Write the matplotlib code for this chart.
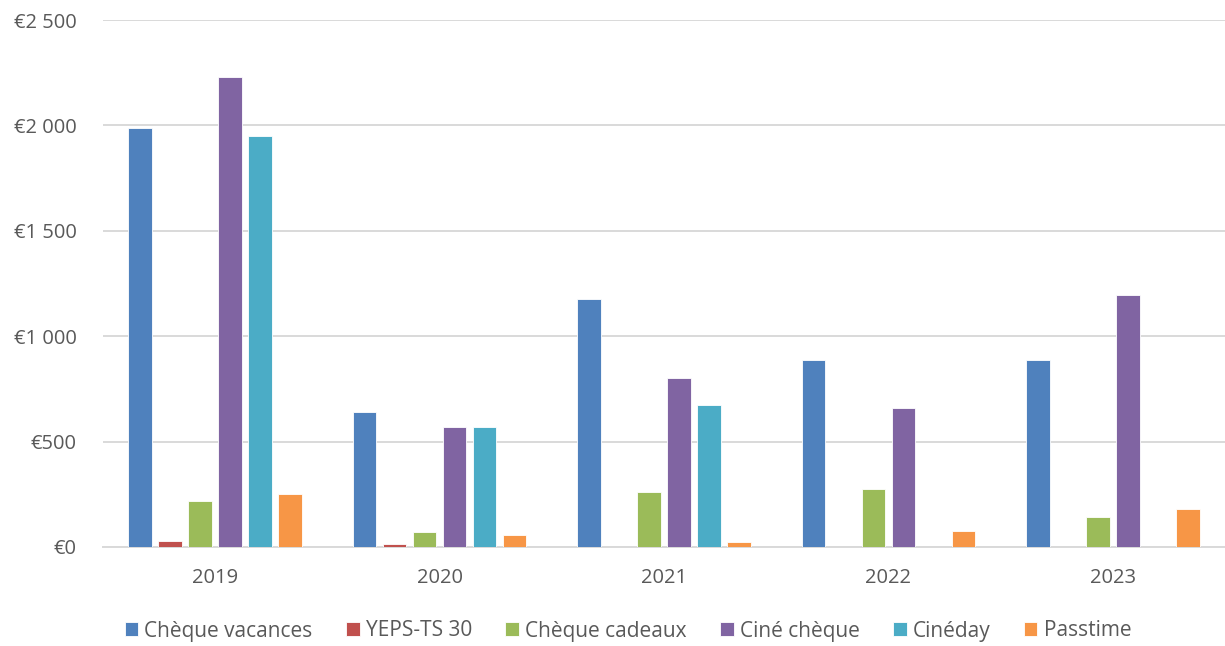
import matplotlib.pyplot as plt
from matplotlib.ticker import FuncFormatter
import numpy as np

years = ['2019', '2020', '2021', '2022', '2023']
series_names = ['Chèque vacances', 'YEPS-TS 30', 'Chèque cadeaux', 'Ciné chèque', 'Cinéday', 'Passtime']
cheque_vacances = [1990, 640, 1175, 885, 885]
yeps = [30, 12, 0, 0, 0]
cheque_cadeaux = [220, 70, 260, 275, 140]
cine_cheque = [2230, 570, 800, 660, 1195]
cineday = [1950, 570, 675, 0, 0]
passtime = [250, 55, 25, 75, 180]
colors = ['#4F81BD', '#C0504D', '#9BBB59', '#8064A2', '#4BACC6', '#F79646']

plt.rcParams['font.family'] = ['Open Sans', 'DejaVu Sans']

fig = plt.figure(figsize=(12.25, 6.46), dpi=100)
ax = fig.add_axes([103 / 1225, 1 - 547 / 646, 1122 / 1225, 527 / 646])

x = np.arange(len(years))
step = 0.1337
all_series = [cheque_vacances, yeps, cheque_cadeaux, cine_cheque, cineday, passtime]
for i, vals in enumerate(all_series):
    ax.bar(x + (i - 2.5) * step, vals, width=0.106, color=colors[i],
           edgecolor='white', linewidth=0.6, label=series_names[i], zorder=3)

ax.set_xlim(-0.5, 4.5)
ax.set_ylim(0, 2500)
ax.set_yticks(range(0, 2501, 500))

def euro(v, pos):
    v = int(v)
    if v >= 1000:
        return '€{} {:03d}'.format(v // 1000, v % 1000)
    return '€{}'.format(v)

ax.yaxis.set_major_formatter(FuncFormatter(euro))
ax.set_xticks(x)
ax.set_xticklabels(years)
ax.grid(axis='y', color='#D9D9D9', linewidth=1.4, zorder=0)
for s in ['top', 'right', 'left']:
    ax.spines[s].set_visible(False)
ax.spines['bottom'].set_color('#D9D9D9')
ax.spines['bottom'].set_linewidth(1.4)
ax.tick_params(axis='both', length=0, labelsize=14.5, labelcolor='#595959')
ax.tick_params(axis='y', pad=19)
ax.tick_params(axis='x', pad=15)

leg = fig.legend(loc='center', bbox_to_anchor=(628 / 1225, 1 - 631 / 646), ncol=6,
                 frameon=False, fontsize=15, handlelength=0.65, handleheight=0.65,
                 handletextpad=0.3, columnspacing=1.6)
for t in leg.get_texts():
    t.set_color('#595959')

fig.savefig('out.png', dpi=100)
